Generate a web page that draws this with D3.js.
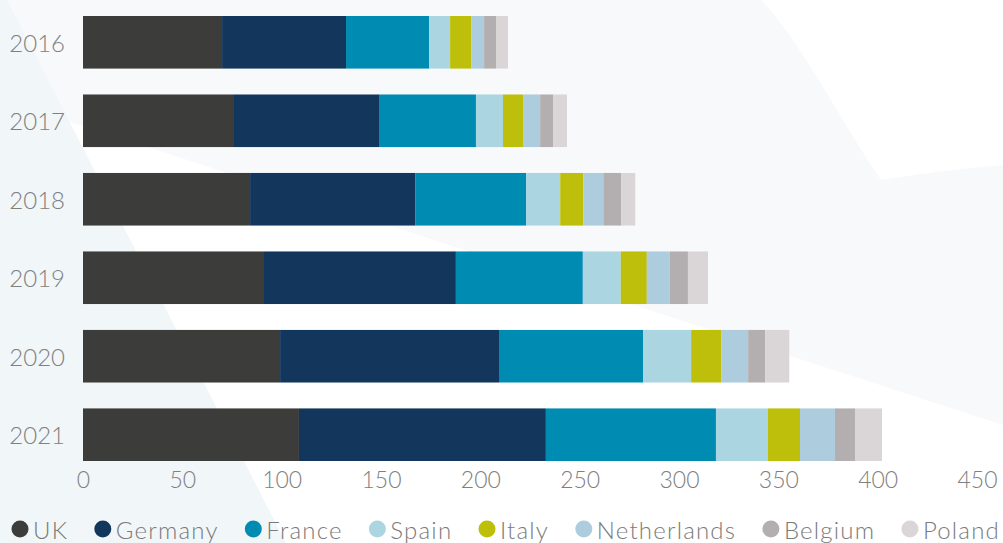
<!DOCTYPE html>
<html>
<head>
<meta charset="utf-8">
<script src="https://cdn.jsdelivr.net/npm/d3@7"></script>
<style>
  body { margin: 0; background: #fff; }
  text { font-family: "Lato Light", Lato, "Open Sans", sans-serif; font-weight: 300; }
</style>
</head>
<body>
<svg id="canvas" width="1003" height="543"></svg>
<script>
// values
const years = ['2016', '2017', '2018', '2019', '2020', '2021']
const countries = ['UK', 'Germany', 'France', 'Spain', 'Italy', 'Netherlands', 'Belgium', 'Poland']
const colors = ['#3c3c3a', '#13375c', '#008bb2', '#abd5e1', '#bdbf0a', '#adccdd', '#b3afb0', '#dad5d6']

const uk          = [70.0, 76.0, 84.1, 91.1, 99.2, 108.7]
const germany     = [62.4, 73.0, 83.1, 96.6, 110.2, 124.3]
const france      = [41.8, 48.8, 55.9, 63.9, 72.5, 85.6]
const spain       = [10.6, 13.6, 17.1, 19.1, 24.2, 26.2]
const italy       = [10.6, 10.1, 11.6, 13.1, 15.1, 16.1]
const netherlands = [6.5, 8.6, 10.1, 11.6, 13.6, 17.6]
const belgium     = [6.0, 6.5, 9.1, 9.1, 8.6, 10.1]
const poland      = [6.0, 7.0, 7.0, 10.1, 12.1, 13.6]

const xTicks = [0, 50, 100, 150, 200, 250, 300, 350, 400, 450]

const series = [uk, germany, france, spain, italy, netherlands, belgium, poland]

let canvas = d3.select('#canvas')
let width = 1003
let height = 543

// table for d3.stack
let rows = years.map((y, i) => {
    let row = { year: y }
    countries.forEach((c, j) => { row[c] = series[j][i] })
    return row
})

let xScale = d3.scaleLinear().domain([0, 450]).range([83, 977])
let yScale = d3.scaleBand().domain(years).range([16, 461]).paddingInner(0.33).paddingOuter(0)
let color = d3.scaleOrdinal().domain(countries).range(colors)

// background shapes
let bg = canvas.append('g')
bg.append('rect').attr('width', width).attr('height', height).attr('fill', '#ffffff')
bg.append('path')
  .attr('d', 'M0,0 L761,0 C800,40 840,120 881,180 C930,172 970,168 1003,165 L1003,425 L83,126 L0,100 Z')
  .attr('fill', '#f8f9fa')
bg.append('path')
  .attr('d', 'M0,0 L7,0 L286,543 L0,543 Z')
  .attr('fill', '#f1f6f9')

let stacked = d3.stack().keys(countries)(rows)

canvas.append('g')
  .selectAll('g')
  .data(stacked)
  .enter()
  .append('g')
  .attr('fill', (d) => color(d.key))
  .selectAll('rect')
  .data((d) => d)
  .enter()
  .append('rect')
  .attr('x', (d) => xScale(d[0]))
  .attr('y', (d) => yScale(d.data.year))
  .attr('width', (d) => xScale(d[1]) - xScale(d[0]))
  .attr('height', yScale.bandwidth())

// year labels
canvas.append('g')
  .selectAll('text')
  .data(years)
  .enter()
  .append('text')
  .attr('x', 65)
  .attr('y', (d) => yScale(d) + yScale.bandwidth() / 2)
  .attr('text-anchor', 'end')
  .attr('dominant-baseline', 'central')
  .attr('font-size', 24)
  .attr('fill', '#808080')
  .text((d) => d)

// x axis labels, no line
let xAxis = d3.axisBottom(xScale).tickValues(xTicks).tickSize(0).tickPadding(0)
let axisG = canvas.append('g')
  .attr('transform', 'translate(0,' + 472 + ')')
  .call(xAxis)
axisG.select('.domain').remove()
axisG.selectAll('text')
  .attr('font-family', null)
  .attr('font-size', 23)
  .attr('fill', '#808080')
  .attr('dy', '0.71em')

// legend
let legend = canvas.append('g')
let items = legend.selectAll('g')
  .data(countries)
  .enter()
  .append('g')
items.append('circle')
  .attr('r', 8.5)
  .attr('cx', 0)
  .attr('cy', 529)
  .attr('fill', (d) => color(d))
items.append('text')
  .attr('x', 13)
  .attr('y', 529)
  .attr('dominant-baseline', 'central')
  .attr('font-size', 24)
  .attr('letter-spacing', 1.2)
  .attr('fill', '#7a7a7a')
  .text((d) => d)

let widths = []
items.each(function () {
    widths.push(d3.select(this).select('text').node().getComputedTextLength() + 13 + 8.5)
})
let total = d3.sum(widths)
let startX = 20
let gap = (1000 - startX + 8.5 - total) / (countries.length - 1)
let pos = startX
items.attr('transform', (d, i) => {
    let t = 'translate(' + pos + ',0)'
    pos += widths[i] + gap
    return t
})
</script>
</body>
</html>
